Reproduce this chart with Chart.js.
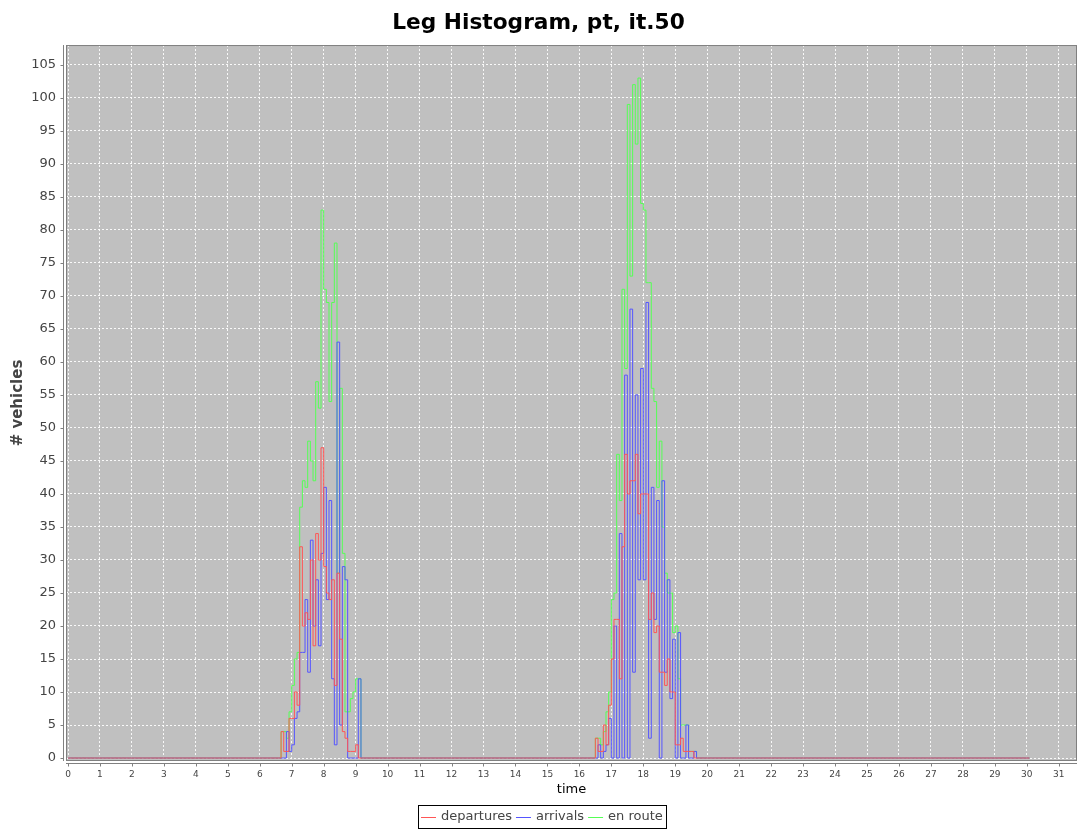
<!DOCTYPE html>
<html>
<head>
<meta charset="utf-8">
<script src="https://cdn.jsdelivr.net/npm/chart.js@4/dist/chart.umd.min.js"></script>
<style>
  html, body { margin: 0; padding: 0; background: #fff; }
  #chart { display: block; }
</style>
</head>
<body>
<canvas id="chart" width="1078" height="830"></canvas>
<script>
// Histogram bins are 5 minutes wide, the run covers 0h .. 30h
const BIN_HOURS = 5 / 60;
const LAST_BIN = 361;
const AM_START = 80;   // bin of 06:40
const PM_START = 198;  // bin of 16:30

// values, one per 5 minute bin (everything else is 0)
const departuresAM = [4, 1, 1, 6, 6, 10, 8, 32, 20, 22, 21, 30, 17, 34, 30, 47,
    29, 25, 24, 27, 11, 28, 18, 4, 3, 1, 1, 1, 2, 0, 0];
const arrivalsAM = [0, 0, 4, 1, 2, 6, 7, 16, 16, 24, 13, 33, 20, 27, 17, 31,
    41, 24, 39, 12, 2, 63, 5, 29, 27, 0, 0, 0, 0, 12, 0];
const enRouteAM = [4, 4, 3, 7, 11, 15, 16, 38, 42, 41, 48, 45, 42, 57, 53, 83,
    71, 69, 54, 69, 78, 28, 56, 31, 7, 7, 9, 10, 12, 12, 0];

const departuresPM = [3, 1, 1, 5, 2, 8, 15, 21, 21, 12, 32, 46, 40, 42, 42, 46,
    37, 40, 40, 40, 21, 25, 19, 20, 13, 13, 11, 15, 10, 10, 2, 2, 3, 1, 1, 1, 1, 0, 0];
const arrivalsPM = [0, 2, 0, 1, 2, 6, 0, 20, 0, 34, 0, 58, 0, 68, 13, 55,
    27, 59, 27, 69, 3, 41, 21, 39, 0, 42, 13, 27, 9, 18, 0, 19, 0, 0, 5, 0, 0, 1, 0];
const enRoutePM = [3, 3, 2, 4, 7, 10, 24, 25, 46, 39, 71, 59, 99, 73, 102, 93,
    103, 84, 83, 72, 72, 56, 54, 41, 48, 35, 28, 25, 25, 19, 20, 12, 5, 5, 5, 1, 1, 1, 0];

const seriesLabels = ['departures', 'arrivals', 'en route'];
const seriesColors = ['#FF5555', '#5555FF', '#55FF55'];

function fullSeries(am, pm) {
    const values = new Array(LAST_BIN + 1).fill(0);
    am.forEach((v, i) => { values[AM_START + i] = v; });
    pm.forEach((v, i) => { values[PM_START + i] = v; });
    return values.map((v, k) => ({ x: k * BIN_HOURS, y: v }));
}

const seriesData = [
    fullSeries(departuresAM, departuresPM),
    fullSeries(arrivalsAM, arrivalsPM),
    fullSeries(enRouteAM, enRoutePM)
];

const FONT = "'DejaVu Sans', 'Liberation Sans', sans-serif";
const AXIS_GREY = '#808080';
const TEXT_GREY = '#444444';

// grey plot background
const plotBackground = {
    id: 'plotBackground',
    beforeDraw(chart) {
        const { ctx, chartArea: a } = chart;
        ctx.save();
        ctx.fillStyle = '#C0C0C0';
        ctx.fillRect(a.left, a.top, a.right - a.left, a.bottom - a.top);
        ctx.restore();
    }
};

// plot outline, offset axis lines and their small tick marks
const axisFrame = {
    id: 'axisFrame',
    afterDatasetsDraw(chart) {
        const { ctx, chartArea: a, scales } = chart;
        ctx.save();
        ctx.strokeStyle = AXIS_GREY;
        ctx.lineWidth = 1;
        ctx.strokeRect(a.left + 0.5, a.top + 0.5, a.right - a.left - 1, a.bottom - a.top - 1);

        const yLine = a.bottom + 2.5;
        const xLine = a.left - 2.5;
        ctx.beginPath();
        ctx.moveTo(a.left, yLine);
        ctx.lineTo(a.right, yLine);
        ctx.moveTo(xLine, a.top);
        ctx.lineTo(xLine, a.bottom);
        scales.x.ticks.forEach(t => {
            const px = Math.round(scales.x.getPixelForValue(t.value)) + 0.5;
            ctx.moveTo(px, yLine);
            ctx.lineTo(px, yLine + 3);
        });
        scales.y.ticks.forEach(t => {
            const py = Math.round(scales.y.getPixelForValue(t.value)) + 0.5;
            ctx.moveTo(xLine, py);
            ctx.lineTo(xLine - 3, py);
        });
        ctx.stroke();
        ctx.restore();
    }
};

// boxed legend under the chart
const boxedLegend = {
    id: 'boxedLegend',
    afterDraw(chart) {
        const { ctx } = chart;
        const sets = chart.data.datasets;
        const lineLen = 15, gap = 5, itemGap = 4, pad = 3;
        const centerX = 542, centerY = 817, boxTop = 805, boxBottom = 828;
        ctx.save();
        ctx.font = '13px ' + FONT;
        const widths = sets.map(d => ctx.measureText(d.label).width);
        let total = pad * 2;
        widths.forEach((w, i) => { total += lineLen + gap + w + (i < widths.length - 1 ? itemGap : 0); });
        const left = Math.round(centerX - total / 2);
        ctx.fillStyle = '#fff';
        ctx.fillRect(left, boxTop, total, boxBottom - boxTop);
        ctx.strokeStyle = '#000';
        ctx.lineWidth = 1;
        ctx.strokeRect(left + 0.5, boxTop + 0.5, Math.round(total), boxBottom - boxTop);
        let x = left + pad;
        ctx.textBaseline = 'middle';
        ctx.textAlign = 'left';
        sets.forEach((d, i) => {
            ctx.strokeStyle = seriesColors[i];
            ctx.lineWidth = 1;
            ctx.beginPath();
            ctx.moveTo(x, centerY + 0.5);
            ctx.lineTo(x + lineLen, centerY + 0.5);
            ctx.stroke();
            x += lineLen + gap;
            ctx.fillStyle = TEXT_GREY;
            ctx.fillText(d.label, x, centerY);
            x += widths[i] + itemGap;
        });
        ctx.restore();
    }
};

new Chart(document.getElementById('chart'), {
    type: 'line',
    data: {
        datasets: seriesData.map((pts, i) => ({
            label: seriesLabels[i],
            data: pts,
            borderColor: seriesColors[i],
            borderWidth: 1,
            pointRadius: 0,
            fill: false,
            stepped: 'before'
        }))
    },
    options: {
        responsive: false,
        animation: false,
        devicePixelRatio: 1,
        parsing: false,
        normalized: true,
        layout: { padding: { left: 0, right: 1, top: 0, bottom: 30 } },
        plugins: {
            legend: { display: false },
            tooltip: { enabled: false },
            title: {
                display: true,
                text: 'Leg Histogram, pt, it.50',
                color: '#000',
                font: { family: FONT, size: 21.7, weight: 'bold' },
                padding: { top: 10, bottom: 9 }
            }
        },
        scales: {
            x: {
                type: 'linear',
                min: -0.0626,
                max: 31.57,
                afterFit(scale) { scale.height = 39; },
                ticks: {
                    stepSize: 1,
                    includeBounds: false,
                    autoSkip: false,
                    maxRotation: 0,
                    color: TEXT_GREY,
                    padding: 4,
                    font: { family: FONT, size: 9 }
                },
                grid: {
                    color: 'rgba(255,255,255,0.9)',
                    tickColor: 'rgba(0,0,0,0)',
                    tickLength: 4
                },
                border: { display: false, dash: [2, 2] },
                title: {
                    display: true,
                    text: 'time',
                    color: '#000',
                    font: { family: FONT, size: 13 },
                    padding: { top: 0, bottom: 3 }
                }
            },
            y: {
                type: 'linear',
                min: -0.45,
                max: 108,
                afterFit(scale) { scale.width = 66; },
                ticks: {
                    stepSize: 5,
                    includeBounds: false,
                    color: TEXT_GREY,
                    padding: 6,
                    font: { family: FONT, size: 13 }
                },
                grid: {
                    color: 'rgba(255,255,255,0.9)',
                    tickColor: 'rgba(0,0,0,0)',
                    tickLength: 4
                },
                border: { display: false, dash: [2, 2] },
                title: {
                    display: true,
                    text: '# vehicles',
                    color: TEXT_GREY,
                    font: { family: FONT, size: 15, weight: 'bold' },
                    padding: { top: 9, bottom: 0 }
                }
            }
        }
    },
    plugins: [plotBackground, axisFrame, boxedLegend]
});
</script>
</body>
</html>
